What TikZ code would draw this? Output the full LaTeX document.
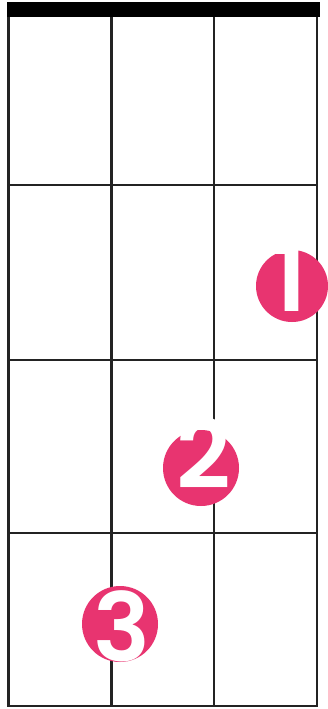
\documentclass[tikz,border=0pt]{standalone}
\usepackage{fontspec}
\setmainfont{Poppins}
\newfontfamily\numfont{Poppins SemiBold}
\definecolor{fingerpink}{RGB}{232,52,112}
\definecolor{gridgray}{RGB}{35,35,35}
\begin{document}
\begin{tikzpicture}[x=1pt,y=-1pt,
  gridline/.style={draw=gridgray,line width=2.8pt},
  finger/.style={circle,fill=fingerpink,minimum size=76pt,inner sep=0pt},
  fnum/.style={text=white,font=\fontsize{95}{95}\numfont,inner sep=0pt}]
\useasboundingbox (0,0) rectangle (327,709);
\fill[white] (0,0) rectangle (327,709);
% strings
\foreach \x in {8.5,111.5,214,317}
  \draw[gridline] (\x,10) -- (\x,706);
% frets
\foreach \y in {185,360,533,706}
  \draw[gridline] (7.2,\y) -- (318.3,\y);
% nut
\fill[black] (7,2) rectangle (320,17);
% fingers
\node[finger,minimum size=72pt] (f1) at (292,286) {};
\node[fnum] at (290,277) {1};
\node[finger] (f2) at (201,468) {};
\node[fnum] at (204,453) {2};
\node[finger] (f3) at (120,624) {};
\node[fnum] at (122,626) {3};
\end{tikzpicture}
\end{document}
